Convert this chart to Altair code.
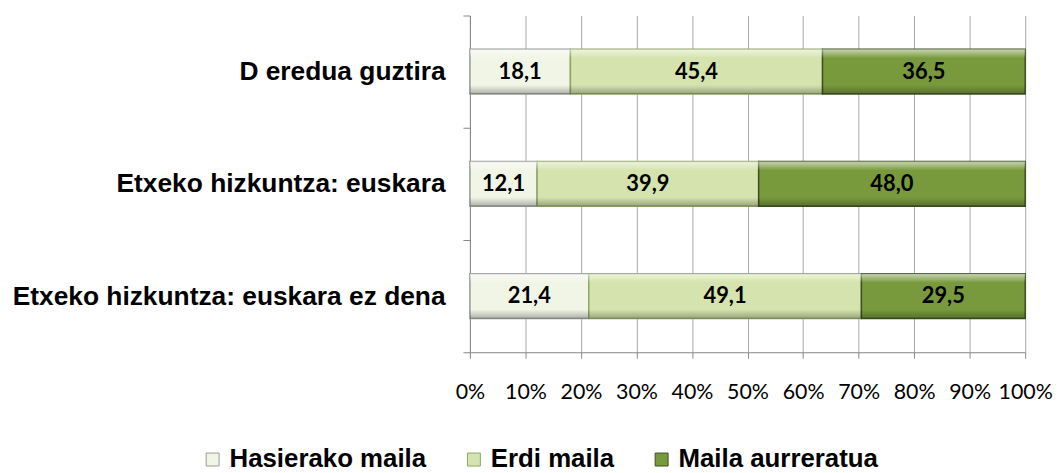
import altair as alt
import pandas as pd

categories = ["D eredua guztira", "Etxeko hizkuntza: euskara", "Etxeko hizkuntza: euskara ez dena"]
series = ["Hasierako maila", "Erdi maila", "Maila aurreratua"]
hasierako = [18.1, 12.1, 21.4]
erdi = [45.4, 39.9, 49.1]
aurreratua = [36.5, 48.0, 29.5]
colors = ["#f1f5e6", "#d5e3ae", "#789a3d"]
edge_colors = ["#9a9a9a", "#8ea564", "#3e5020"]
x_ticks = [0, 10, 20, 30, 40, 50, 60, 70, 80, 90, 100]

rows = []
for i, c in enumerate(categories):
    for j, (s, vals) in enumerate(zip(series, [hasierako, erdi, aurreratua])):
        rows.append({"category": c, "series": s, "order": j, "value": vals[i],
                     "label": f"{vals[i]:.1f}".replace(".", ",")})
df = pd.DataFrame(rows)

base = alt.Chart(df).transform_stack(
    stack="value", groupby=["category"], sort=[alt.SortField("order")], as_=["x0", "x1"]
).transform_calculate(mid="(datum.x0 + datum.x1) / 2")

yenc = alt.Y("category:N", sort=categories, title=None,
             scale=alt.Scale(paddingInner=0, paddingOuter=0),
             axis=alt.Axis(labelFont="Liberation Sans", labelFontWeight="bold", labelFontSize=26.5,
                           labelColor="#000000", tickBand="extent", tickSize=7, tickColor="#868686",
                           domainColor="#868686", labelPadding=18, grid=False, labelLimit=600))
xscale = alt.Scale(domain=[0, 100], nice=False)

bars = base.mark_bar(size=45, strokeWidth=1.5).encode(
    y=yenc,
    x=alt.X("x0:Q", scale=xscale, title=None,
            axis=alt.Axis(values=x_ticks, labelExpr="datum.value + '%'", labelFont="Lato",
                          labelFontSize=21.5, labelColor="#000000", tickSize=6, tickColor="#868686",
                          domainColor="#868686", gridColor="#a6a6a6", gridWidth=1, labelPadding=24,
                          labelFlush=False)),
    x2="x1:Q",
    color=alt.Color("series:N", sort=series,
                    scale=alt.Scale(domain=series, range=colors),
                    legend=alt.Legend(title=None, orient="none", direction="horizontal",
                                      legendX=-272, legendY=434, symbolType="square", symbolSize=170,
                                      symbolStrokeColor="#6b7a50", symbolStrokeWidth=1,
                                      labelFont="Liberation Sans", labelFontWeight="bold",
                                      labelFontSize=26, labelColor="#000000", columnPadding=34,
                                      labelOffset=4, labelLimit=400)),
    stroke=alt.Stroke("series:N", scale=alt.Scale(domain=series, range=edge_colors), legend=None),
)

shade = base.mark_bar(size=45, color=alt.Gradient(
    gradient="linear", x1=0, x2=0, y1=0, y2=1,
    stops=[alt.GradientStop(offset=0, color="rgba(255,255,255,0.6)"),
           alt.GradientStop(offset=0.2, color="rgba(255,255,255,0.0)"),
           alt.GradientStop(offset=0.8, color="rgba(0,0,0,0.0)"),
           alt.GradientStop(offset=1, color="rgba(0,0,0,0.28)")])).encode(
    y=alt.Y("category:N", sort=categories),
    x="x0:Q", x2="x1:Q")

text = base.mark_text(font="Lato", fontWeight="bold", fontSize=22, color="#000000").encode(
    y=alt.Y("category:N", sort=categories),
    x="mid:Q",
    text="label:N")

chart = alt.layer(bars, shade, text).properties(
    width=559, height=339,
    autosize=alt.AutoSizeParams(type="none"),
    padding={"left": 465, "top": 6, "right": 30, "bottom": 120},
).configure_view(stroke=None)

chart.save("out.html", embed_options={"renderer": "svg", "actions": False})
